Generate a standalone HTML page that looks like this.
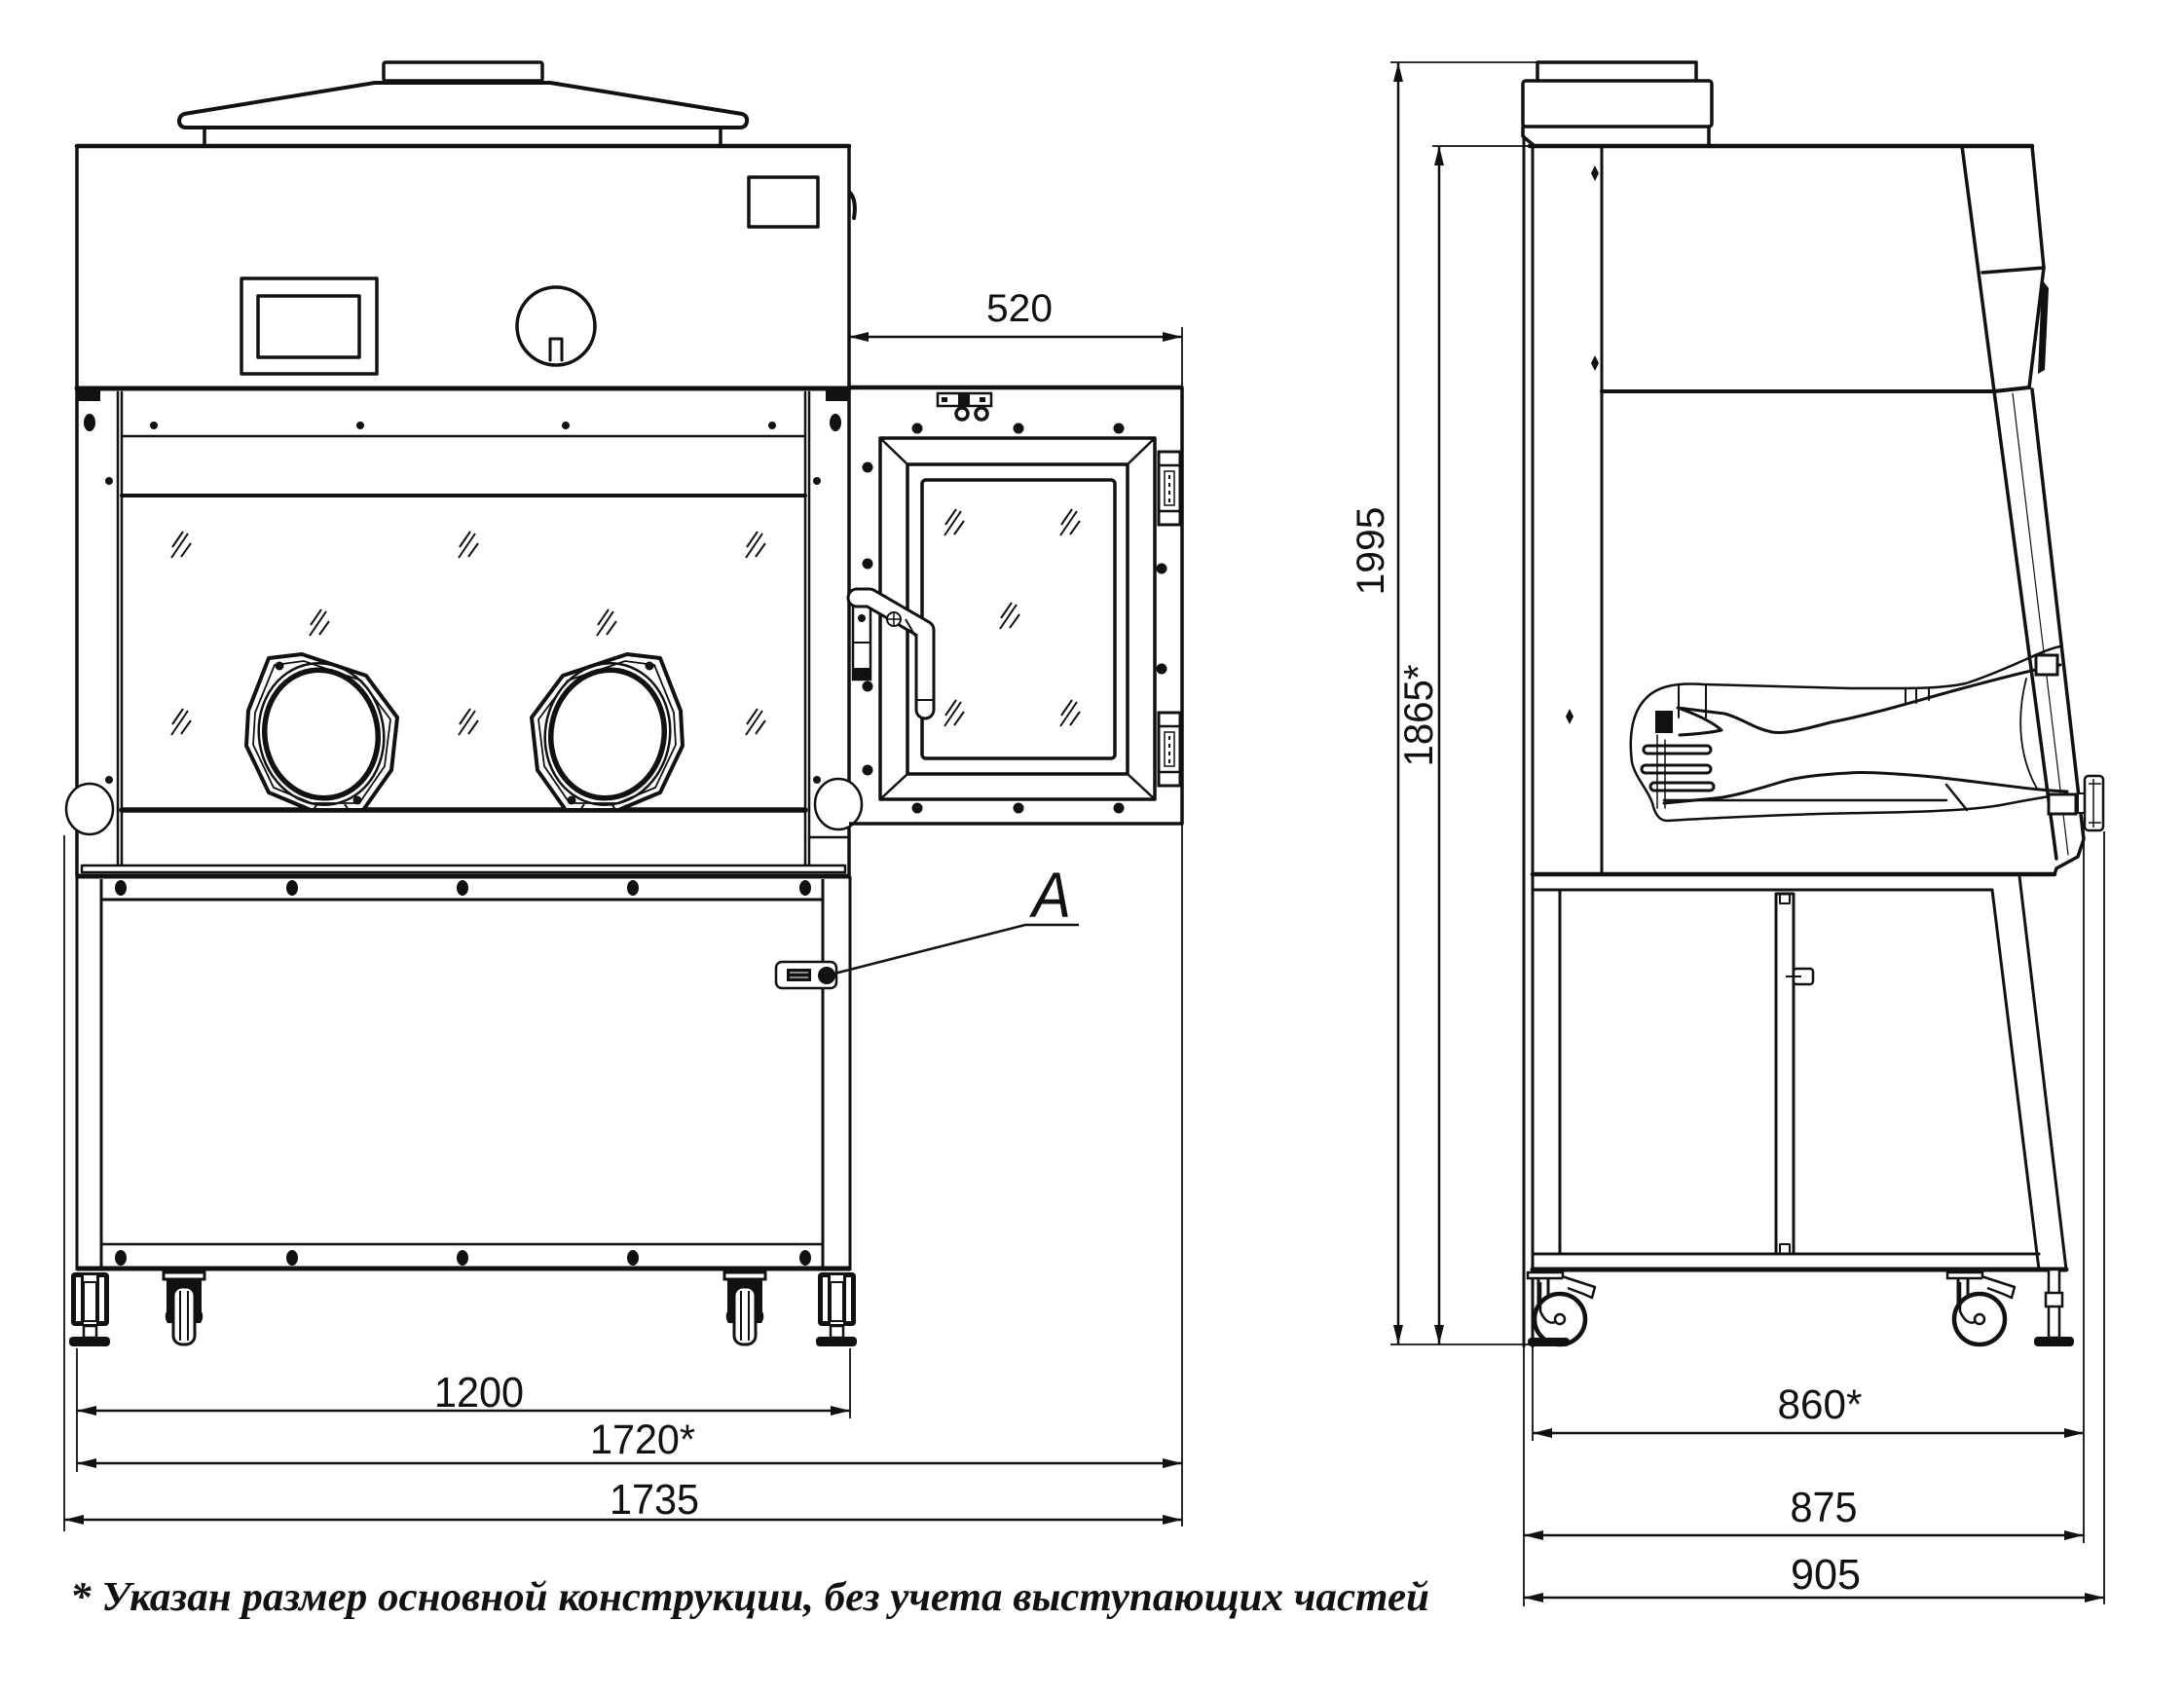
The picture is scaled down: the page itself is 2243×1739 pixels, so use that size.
<!DOCTYPE html>
<html><head><meta charset="utf-8"><style>html,body{margin:0;padding:0;background:#fff}svg{display:block}</style></head>
<body>
<svg xmlns="http://www.w3.org/2000/svg" width="2243" height="1739" viewBox="0 0 2243 1739">
<defs>
<marker id="ar" viewBox="0 0 20 10" refX="20" refY="5" markerWidth="21" markerHeight="10" markerUnits="userSpaceOnUse" orient="auto-start-reverse"><path d="M0,0 L20,5 L0,10 z" fill="#111"/></marker>
<g id="h" stroke="#111" stroke-width="2" fill="none"><path d="M-12,3 L-1,-13 M-13,14 L4,-11 M-3,13 L7,-1"/></g>
<g id="port">
<path d="M-54,-78 L-20,-82 L46,-60 L78,-17 L72,37 L43,78 L-11,78 L-54,60 L-77,12 L-75,-24 Z" fill="#fff" stroke="#111" stroke-width="4" stroke-linejoin="round"/>
<path d="M-48,-71 L-18,-75 L41,-55 L71,-15 L65,33 L39,71 L-10,71 L-49,55 L-70,11 L-68,-22 Z" fill="none" stroke="#111" stroke-width="1.8"/>
<ellipse rx="64" ry="73" transform="rotate(-10)" fill="none" stroke="#111" stroke-width="2.5"/>
<ellipse rx="58" ry="66" transform="rotate(-10)" fill="#fff" stroke="#111" stroke-width="5.5"/>
<circle cx="-43" cy="-70" r="4.5" fill="#111"/>
<circle cx="37" cy="68" r="4.5" fill="#111"/>
<path d="M-8,78 L-4,71 M28,78 L24,72" stroke="#111" stroke-width="2"/>
</g>
<g id="foot">
<rect x="-19" y="0" width="39" height="55" rx="4" fill="#111"/>
<rect x="-14" y="5" width="5" height="45" fill="#fff"/>
<rect x="-6" y="3" width="13" height="50" fill="#fff"/>
<rect x="10" y="5" width="5" height="45" fill="#fff"/>
<rect x="-6" y="10" width="13" height="40" fill="none" stroke="#111" stroke-width="2"/>
<rect x="-6" y="55" width="13" height="12" fill="#fff" stroke="#111" stroke-width="2.5"/>
<rect x="-21" y="66" width="42" height="10" rx="4" fill="#111"/>
</g>
<g id="cast">
<rect x="-21" y="0" width="42" height="7" fill="#fff" stroke="#111" stroke-width="3"/>
<path d="M-18,7 L18,7 L18,40 Q21,46 17,52 L-17,52 Q-21,46 -18,40 Z" fill="#111"/>
<rect x="-11" y="15" width="22" height="59" rx="9" fill="#fff" stroke="#111" stroke-width="3"/>
<path d="M-4,19 V70 M4,19 V70" stroke="#111" stroke-width="2"/>
</g>
<g id="hinge">
<rect x="0" y="0" width="22" height="75" fill="#fff" stroke="#111" stroke-width="3"/>
<path d="M0,14 H22 M0,61 H22" stroke="#111" stroke-width="2.5"/>
<rect x="6" y="20" width="10" height="35" fill="none" stroke="#111" stroke-width="1.5"/>
<path d="M11,24 V52" stroke="#111" stroke-width="2" stroke-dasharray="4 4"/>
</g>
<g id="scast">
<rect x="-33" y="0" width="36" height="6" fill="#fff" stroke="#111" stroke-width="2.5"/>
<path d="M-22,6 L-22,38 M-12,6 L-12,30" stroke="#111" stroke-width="3" fill="none"/>
<path d="M2,4 L36,15 L33,26 L24,22 L8,16" fill="#fff" stroke="#111" stroke-width="2.5" stroke-linejoin="round"/>
<circle cx="0" cy="48" r="26" fill="#fff" stroke="#111" stroke-width="4.5"/>
<path d="M-20,10 L-20,40 Q-12,58 0,48" fill="none" stroke="#111" stroke-width="2.5"/>
<circle cx="0" cy="48" r="5" fill="#fff" stroke="#111" stroke-width="2.5"/>
</g>
</defs>
<rect width="2243" height="1739" fill="#fff"/>

<g fill="none" stroke="#111" stroke-width="3.5" stroke-linejoin="round" stroke-linecap="round">
<!-- ============ FRONT VIEW ============ -->
<rect x="394" y="64" width="163" height="19" rx="2"/>
<path d="M385,85 L565,85 L762,117 Q768,119 767,125 Q766,131 760,131 L191,131 Q185,131 184,125 Q184,119 189,117 Z" stroke-width="4"/>
<path d="M210,131 V150 M740,131 V150"/>
<rect x="79" y="150" width="793" height="249"/>
<path d="M79,150 H872" stroke-width="4.5"/>
<rect x="769" y="182" width="71" height="51"/>
<rect x="248" y="286" width="139" height="98"/>
<rect x="265" y="304" width="104" height="63"/>
<circle cx="571" cy="335" r="40"/>
<path d="M565,370 V348 H577 V370" stroke-width="3"/>
<path d="M873,198 Q880,206 877,224" stroke-width="4"/>

<!-- sash frame -->
<path d="M79,399 H872" stroke-width="5"/>
<path d="M79,399 V900 M872,399 V900"/>
<path d="M121,403 V889 M125,403 V889" stroke-width="2.5"/>
<path d="M827,403 V889 M831,403 V889" stroke-width="2.5"/>
<path d="M125,448 H827" stroke-width="2.5"/>
<path d="M125,509 H827" stroke-width="4"/>
<path d="M125,832 H827" stroke-width="5.5"/>
<path d="M831,860 H872" stroke-width="2.5"/>
</g>
<g fill="#111">
<rect x="80" y="401" width="23" height="11"/>
<rect x="848" y="401" width="23" height="11"/>
<ellipse cx="92" cy="434" rx="6" ry="9"/>
<ellipse cx="858" cy="434" rx="6" ry="9"/>
<circle cx="158" cy="437" r="4"/><circle cx="370" cy="437" r="4"/><circle cx="581" cy="437" r="4"/><circle cx="793" cy="437" r="4"/>
<circle cx="112" cy="494" r="4"/><circle cx="839" cy="494" r="4"/>
<circle cx="112" cy="801" r="4"/><circle cx="839" cy="801" r="4"/>
</g>
<g>
<use href="#h" x="189" y="559"/><use href="#h" x="484" y="559"/><use href="#h" x="779" y="559"/>
<use href="#h" x="331" y="639"/><use href="#h" x="626" y="639"/>
<use href="#h" x="189" y="741"/><use href="#h" x="484" y="741"/><use href="#h" x="779" y="741"/>
</g>
<g transform="translate(330,754)"><use href="#port"/></g>
<g transform="translate(624,754) scale(-1,1)"><use href="#port"/></g>
<ellipse cx="92" cy="831" rx="24" ry="26" fill="#fff" stroke="#111" stroke-width="2.5"/>
<ellipse cx="861" cy="826" rx="24" ry="26" fill="#fff" stroke="#111" stroke-width="2.5"/>

<!-- worktop & base -->
<g fill="none" stroke="#111" stroke-width="3" stroke-linejoin="round">
<rect x="84" y="889" width="784" height="7" fill="#fff" stroke-width="2.5"/>
<path d="M79,900 H873" stroke-width="5"/>
<path d="M104,924 H845" stroke-width="3"/>
<path d="M79,900 V1305 M104,903 V1303 M845,903 V1303 M873,900 V1305" stroke-width="3"/>
<path d="M104,1278 H845" stroke-width="2.5"/>
<path d="M79,1303 H873" stroke-width="5"/>
</g>
<g fill="#111">
<ellipse cx="124" cy="912" rx="6" ry="8"/><ellipse cx="300" cy="912" rx="6" ry="8"/><ellipse cx="475" cy="912" rx="6" ry="8"/><ellipse cx="650" cy="912" rx="6" ry="8"/><ellipse cx="827" cy="912" rx="6" ry="8"/>
<ellipse cx="124" cy="1292" rx="6" ry="8"/><ellipse cx="300" cy="1292" rx="6" ry="8"/><ellipse cx="475" cy="1292" rx="6" ry="8"/><ellipse cx="650" cy="1292" rx="6" ry="8"/><ellipse cx="827" cy="1292" rx="6" ry="8"/>
</g>
<!-- latch A -->
<rect x="797" y="988" width="62" height="27" rx="6" fill="#fff" stroke="#111" stroke-width="2.5"/>
<rect x="808" y="995" width="25" height="13" fill="#111"/>
<path d="M811,999 H830 M811,1004 H830" stroke="#fff" stroke-width="1"/>
<circle cx="849" cy="1002" r="9" fill="#111"/>
<path d="M857,1000 L1053,950 L1108,950" fill="none" stroke="#111" stroke-width="2.5"/>
<text x="1080" y="942" font-family="Liberation Sans, Arial, sans-serif" font-size="66" font-style="italic" text-anchor="middle" textLength="40" lengthAdjust="spacingAndGlyphs" fill="#111">A</text>

<!-- front casters / feet -->
<g transform="translate(92,1307)"><use href="#foot"/></g>
<g transform="translate(859,1307)"><use href="#foot"/></g>
<g transform="translate(189,1307)"><use href="#cast"/></g>
<g transform="translate(765,1307)"><use href="#cast"/></g>

<!-- ============ PASS BOX ============ -->
<g fill="none" stroke="#111" stroke-width="3.5" stroke-linejoin="round">
<path d="M872,398 H1214 V846 H872" />
<path d="M872,398 H1214" stroke-width="4.5"/>
<rect x="904" y="450" width="282" height="371"/>
<rect x="932" y="477" width="226" height="318"/>
<path d="M904,450 L932,477 M1186,450 L1158,477 M904,821 L932,795 M1186,821 L1158,795" stroke-width="2.5"/>
<rect x="947" y="493" width="198" height="286" rx="4"/>
</g>
<g>
<use href="#h" x="983" y="536"/><use href="#h" x="1102" y="536"/><use href="#h" x="1040" y="632"/><use href="#h" x="983" y="732"/><use href="#h" x="1102" y="732"/>
</g>
<g fill="#111">
<circle cx="942" cy="440" r="5.5"/><circle cx="1046" cy="440" r="5.5"/><circle cx="1149" cy="440" r="5.5"/>
<circle cx="942" cy="830" r="5.5"/><circle cx="1046" cy="830" r="5.5"/><circle cx="1149" cy="830" r="5.5"/>
<circle cx="891" cy="480" r="5.5"/><circle cx="891" cy="579" r="5.5"/><circle cx="891" cy="705" r="5.5"/><circle cx="891" cy="791" r="5.5"/>
<circle cx="1193" cy="584" r="5.5"/><circle cx="1193" cy="687" r="5.5"/>
</g>
<g transform="translate(1190,464)"><use href="#hinge"/></g>
<g transform="translate(1190,732)"><use href="#hinge"/></g>
<!-- top latch -->
<rect x="963" y="404" width="55" height="13" fill="#fff" stroke="#111" stroke-width="2.5"/>
<rect x="984" y="404" width="12" height="13" fill="#111"/>
<path d="M967,408 h6 v5 h-6z M1006,408 h6 v5 h-6z" fill="#111"/>
<circle cx="988" cy="425" r="6" fill="#fff" stroke="#111" stroke-width="3.5"/>
<circle cx="1008" cy="425" r="6" fill="#fff" stroke="#111" stroke-width="3.5"/>
<!-- door handle -->
<rect x="876" y="616" width="18" height="82" fill="#fff" stroke="#111" stroke-width="2.5"/>
<circle cx="885" cy="635" r="4" fill="#111"/>
<path d="M876,660 H894" stroke="#111" stroke-width="2"/>
<rect x="876" y="686" width="18" height="13" fill="#111"/>
<path d="M880,614 L893,614 L950,647 L950,729" fill="none" stroke="#111" stroke-width="21" stroke-linejoin="round" stroke-linecap="round"/>
<path d="M880,614 L893,614 L950,647 L950,729" fill="none" stroke="#fff" stroke-width="15" stroke-linejoin="round" stroke-linecap="round"/>
<path d="M941,719 H959 M930,636 L941,655" stroke="#111" stroke-width="2"/>
<circle cx="918" cy="636" r="7" fill="#fff" stroke="#111" stroke-width="2"/>
<path d="M911,636 H925 M918,629 V643" stroke="#111" stroke-width="1.5"/>

<!-- ============ FRONT DIMENSIONS ============ -->
<g fill="none" stroke="#111" stroke-width="1.8">
<path d="M1214,336 V1568"/>
<path d="M79,1385 V1512"/>
<path d="M873,1385 V1457"/>
<path d="M66,858 V1573"/>
</g>
<g fill="none" stroke="#111" stroke-width="2.5">
<path d="M872,346 H1214" marker-start="url(#ar)" marker-end="url(#ar)"/>
<path d="M79,1449 H873" marker-start="url(#ar)" marker-end="url(#ar)"/>
<path d="M79,1503 H1214" marker-start="url(#ar)" marker-end="url(#ar)"/>
<path d="M66,1561 H1214" marker-start="url(#ar)" marker-end="url(#ar)"/>
</g>
<g font-family="Liberation Sans, Arial, sans-serif" fill="#111" text-anchor="middle">
<text x="1047" y="330" font-size="40" textLength="68" lengthAdjust="spacingAndGlyphs">520</text>
<text x="492" y="1445" font-size="44" textLength="92" lengthAdjust="spacingAndGlyphs">1200</text>
<text x="660" y="1493" font-size="43" textLength="108" lengthAdjust="spacingAndGlyphs">1720*</text>
<text x="672" y="1555" font-size="44" textLength="92" lengthAdjust="spacingAndGlyphs">1735</text>
</g>

<!-- ============ SIDE VIEW ============ -->
<g fill="none" stroke="#111" stroke-width="3.5" stroke-linejoin="round" stroke-linecap="round">
<path d="M1579,83 V64 H1742 V83"/>
<rect x="1564" y="83" width="194" height="47" rx="3"/>
<path d="M1564,130 V140 L1576,150 M1755,130 V150"/>
<path d="M1571,150 H2087" stroke-width="4.5"/>
<path d="M1565,140 V1383 M1574,150 V1383" stroke-width="3"/>
<path d="M1645,150 V898" stroke-width="3"/>
<path d="M2015,150 L2048,402"/>
<path d="M2087,150 L2099,275 L2084,398"/>
<path d="M2036,280 L2099,275"/>
<path d="M1645,402 H2048 L2084,398" stroke-width="4"/>
<path d="M2048,402 L2112,882"/>
<path d="M2087,400 L2140,862 L2134,880 L2112,892 L2110,898"/>
<path d="M2067,404 L2124,878" stroke-width="1.2"/>
<path d="M1574,898 H2110" stroke-width="4.5"/>
<path d="M1574,914 H2046" stroke-width="3"/>
<path d="M1602,914 V1288" stroke-width="3"/>
<rect x="1824" y="918" width="18" height="370" stroke-width="3"/>
<path d="M1828,918 V928 H1838 V918 M1828,1288 V1278 H1838 V1288" stroke-width="2"/>
<path d="M1574,1288 H2094" stroke-width="3"/>
<path d="M1574,1304 H2122" stroke-width="5"/>
<path d="M2046,914 L2094,1304 M2074,900 L2122,1304" stroke-width="3"/>
</g>
<path d="M2097,287 L2104,296 L2100,380 L2093,384 Z" fill="#111"/>
<rect x="1842" y="995" width="20" height="16" rx="3" fill="#fff" stroke="#111" stroke-width="2.5"/>
<path d="M1834,1003 H1850" stroke="#111" stroke-width="2"/>
<g fill="#111">
<path d="M1638,170 L1642,178 L1638,186 L1634,178 Z"/>
<path d="M1638,365 L1642,373 L1638,381 L1634,373 Z"/>
<path d="M1612,728 L1616,736 L1612,744 L1608,736 Z"/>
</g>

<!-- glove -->
<g fill="none" stroke="#111" stroke-linejoin="round" stroke-linecap="round">
<path d="M2116,664 C2095,668 2070,685 2019,702 C1990,708 1960,707 1900,707 L1750,703 C1720,701 1700,705 1688,720 C1675,735 1673,760 1676,783 C1680,800 1692,810 1697,825 C1700,838 1705,843 1712,843 C1760,840 1850,836 1916,835 C1980,834 2030,832 2060,826 C2085,821 2105,818 2123,815" stroke-width="2.5"/>
<path d="M2116,683 C2095,686 2060,695 2012,708 C1960,722 1930,732 1880,742 C1850,750 1833,754 1820,752 C1800,748 1790,738 1771,733 L1723,727 C1740,733 1758,741 1768,750 C1755,753 1742,754 1725,755" stroke-width="3"/>
<path d="M2123,813 C2090,812 2050,805 1985,798 C1940,794 1910,793 1899,794 C1860,796 1840,800 1830,803 C1800,812 1780,818 1761,820 L1709,825" stroke-width="3"/>
<path d="M1709,822 L1999,822 M1999,806 L2020,832" stroke-width="2.5"/>
<path d="M1724,703 V737 M1752,703 V737 M1957,707 V722 M1968,707 V722 M1981,707 V719" stroke-width="2"/>
<path d="M2081,697 C2070,740 2075,780 2092,810" stroke-width="1.8"/>
<rect x="1688" y="766" width="69" height="8" rx="4" stroke-width="3" fill="#fff"/>
<rect x="1686" y="786" width="71" height="8" rx="4" stroke-width="3" fill="#fff"/>
<rect x="1695" y="804" width="65" height="8" rx="4" stroke-width="3" fill="#fff"/>
<path d="M1702,755 V830 M1710,760 V830" stroke-width="1.5"/>
</g>
<rect x="1700" y="730" width="18" height="23" fill="#111"/>
<rect x="2091" y="673" width="22" height="20" fill="#fff" stroke="#111" stroke-width="3"/>
<rect x="2104" y="816" width="28" height="20" fill="#fff" stroke="#111" stroke-width="3"/>
<rect x="2134" y="815" width="8" height="20" fill="#fff" stroke="#111" stroke-width="2"/>
<rect x="2141" y="797" width="19" height="56" rx="4" fill="#fff" stroke="#111" stroke-width="2.5"/>
<path d="M2145,805 H2158 M2145,845 H2158 M2150,800 V850" stroke="#111" stroke-width="1.5"/>

<!-- side casters -->
<g transform="translate(1602,1307)"><use href="#scast"/></g>
<g transform="translate(2033,1307)"><use href="#scast"/></g>
<rect x="1569" y="1374" width="43" height="9" rx="4" fill="#111"/>
<rect x="2104" y="1304" width="11" height="70" fill="#fff" stroke="#111" stroke-width="2.5"/>
<rect x="2101" y="1328" width="17" height="14" fill="#fff" stroke="#111" stroke-width="2.5"/>
<rect x="2089" y="1373" width="41" height="10" rx="4" fill="#111"/>

<!-- side dimensions -->
<g fill="none" stroke="#111" stroke-width="1.8">
<path d="M1428,64 H1742"/>
<path d="M1471,150 H1574"/>
<path d="M1428,1381 H1574"/>
<path d="M1565,1383 V1650"/>
<path d="M1574,1383 V1480"/>
<path d="M2140,865 V1585"/>
<path d="M2161,854 V1648"/>
</g>
<g fill="none" stroke="#111" stroke-width="2.5">
<path d="M1436,64 V1381" marker-start="url(#ar)" marker-end="url(#ar)"/>
<path d="M1478,150 V1381" marker-start="url(#ar)" marker-end="url(#ar)"/>
<path d="M1574,1472 H2140" marker-start="url(#ar)" marker-end="url(#ar)"/>
<path d="M1565,1577 H2140" marker-start="url(#ar)" marker-end="url(#ar)"/>
<path d="M1565,1641 H2161" marker-start="url(#ar)" marker-end="url(#ar)"/>
</g>
<g font-family="Liberation Sans, Arial, sans-serif" fill="#111" text-anchor="middle">
<text transform="translate(1421,566) rotate(-90)" font-size="40" textLength="91" lengthAdjust="spacingAndGlyphs">1995</text>
<text transform="translate(1471,735) rotate(-90)" font-size="42" textLength="105" lengthAdjust="spacingAndGlyphs">1865*</text>
<text x="1869" y="1457" font-size="43" textLength="87" lengthAdjust="spacingAndGlyphs">860*</text>
<text x="1873" y="1563" font-size="44" textLength="69" lengthAdjust="spacingAndGlyphs">875</text>
<text x="1875" y="1632" font-size="44" textLength="72" lengthAdjust="spacingAndGlyphs">905</text>
</g>

<!-- footnote -->
<text x="72" y="1654" font-family="Liberation Serif, Times New Roman, serif" font-size="42" font-weight="bold" font-style="italic" fill="#111" textLength="1396" lengthAdjust="spacingAndGlyphs">* Указан размер основной конструкции, без учета выступающих частей</text>
</svg>
</body></html>
